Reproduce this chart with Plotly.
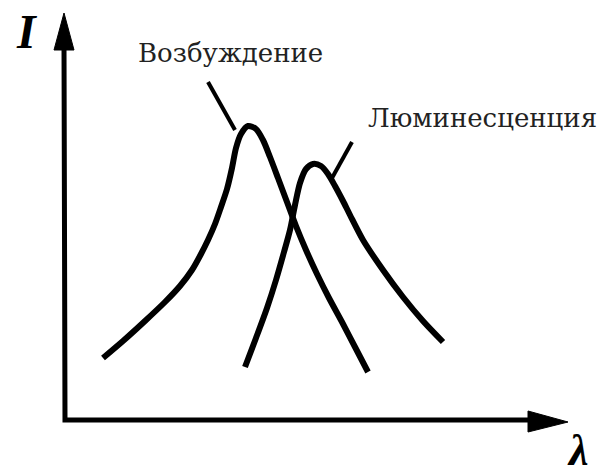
import plotly.graph_objects as go

# Excitation curve (λ, I) in arbitrary units
exc_lambda = [38, 58, 80, 100, 115, 127, 136, 143, 150, 156, 162, 167, 171, 176, 183,
              191, 198, 205, 213, 222, 231, 241, 252, 264, 277, 290, 303]
exc_I      = [62, 79, 99, 118, 134, 150, 166, 180, 196, 213, 231, 252, 272, 286, 294,
              291, 280, 263, 242, 218, 194, 170, 146, 122, 98, 73, 48]

# Luminescence curve
lum_lambda = [180, 191, 202, 211, 219, 225, 230, 235, 241, 248, 256, 263, 270,
              278, 285, 298, 318, 338, 358, 378]
lum_I      = [53, 82, 112, 140, 168, 190, 215, 237, 251, 256, 254, 246, 234,
              219, 205, 180, 150, 123, 99, 78]

# Label texts
label_exc = "Возбуждение"
label_lum = "Люминесценция"
label_y = "I"
label_x = "λ"

BLACK = "#000000"
fig = go.Figure()

curve_line = dict(color=BLACK, width=6, shape="spline", smoothing=0.8)
fig.add_trace(go.Scatter(x=exc_lambda, y=exc_I, mode="lines", line=curve_line, hoverinfo="skip"))
fig.add_trace(go.Scatter(x=lum_lambda, y=lum_I, mode="lines", line=curve_line, hoverinfo="skip"))

# Leader lines
fig.add_trace(go.Scatter(x=[143, 170], y=[338, 290], mode="lines",
                         line=dict(color=BLACK, width=4), hoverinfo="skip"))
fig.add_trace(go.Scatter(x=[287, 267], y=[278, 242], mode="lines",
                         line=dict(color=BLACK, width=4), hoverinfo="skip"))

# Axes lines
fig.add_trace(go.Scatter(x=[-1, 0, 470], y=[375, 0, 0], mode="lines",
                         line=dict(color=BLACK, width=5), hoverinfo="skip"))
# Arrowheads
fig.add_trace(go.Scatter(x=[-11, -1, 9, -11], y=[370, 407, 370, 370], mode="lines",
                         fill="toself", fillcolor=BLACK, line=dict(color=BLACK, width=1),
                         hoverinfo="skip"))
fig.add_trace(go.Scatter(x=[463, 503, 463, 463], y=[9, -2, -12, 9], mode="lines",
                         fill="toself", fillcolor=BLACK, line=dict(color=BLACK, width=1),
                         hoverinfo="skip"))

serif = "DejaVu Serif, serif"
fig.add_annotation(x=165, y=367, text=label_exc, showarrow=False,
                   font=dict(family=serif, size=26, color="#222222"))
fig.add_annotation(x=417, y=302, text=label_lum, showarrow=False,
                   font=dict(family=serif, size=26, color="#222222"))
fig.add_annotation(x=-38, y=389, text="<b><i>" + label_y + "</i></b>", showarrow=False,
                   font=dict(family="Liberation Serif, serif", size=48, color=BLACK))
fig.add_annotation(x=513, y=-30, text="<b><i>" + label_x + "</i></b>", showarrow=False,
                   font=dict(family="Liberation Serif, serif", size=44, color=BLACK))

fig.update_layout(
    width=608, height=476,
    margin=dict(l=0, r=0, t=0, b=0),
    paper_bgcolor="white", plot_bgcolor="white",
    showlegend=False,
    xaxis=dict(range=[-65, 543], visible=False, fixedrange=True),
    yaxis=dict(range=[-56, 420], visible=False, fixedrange=True),
)

fig.write_html("out.html", config={"displayModeBar": False},
               post_script="document.body.style.margin='0';")
